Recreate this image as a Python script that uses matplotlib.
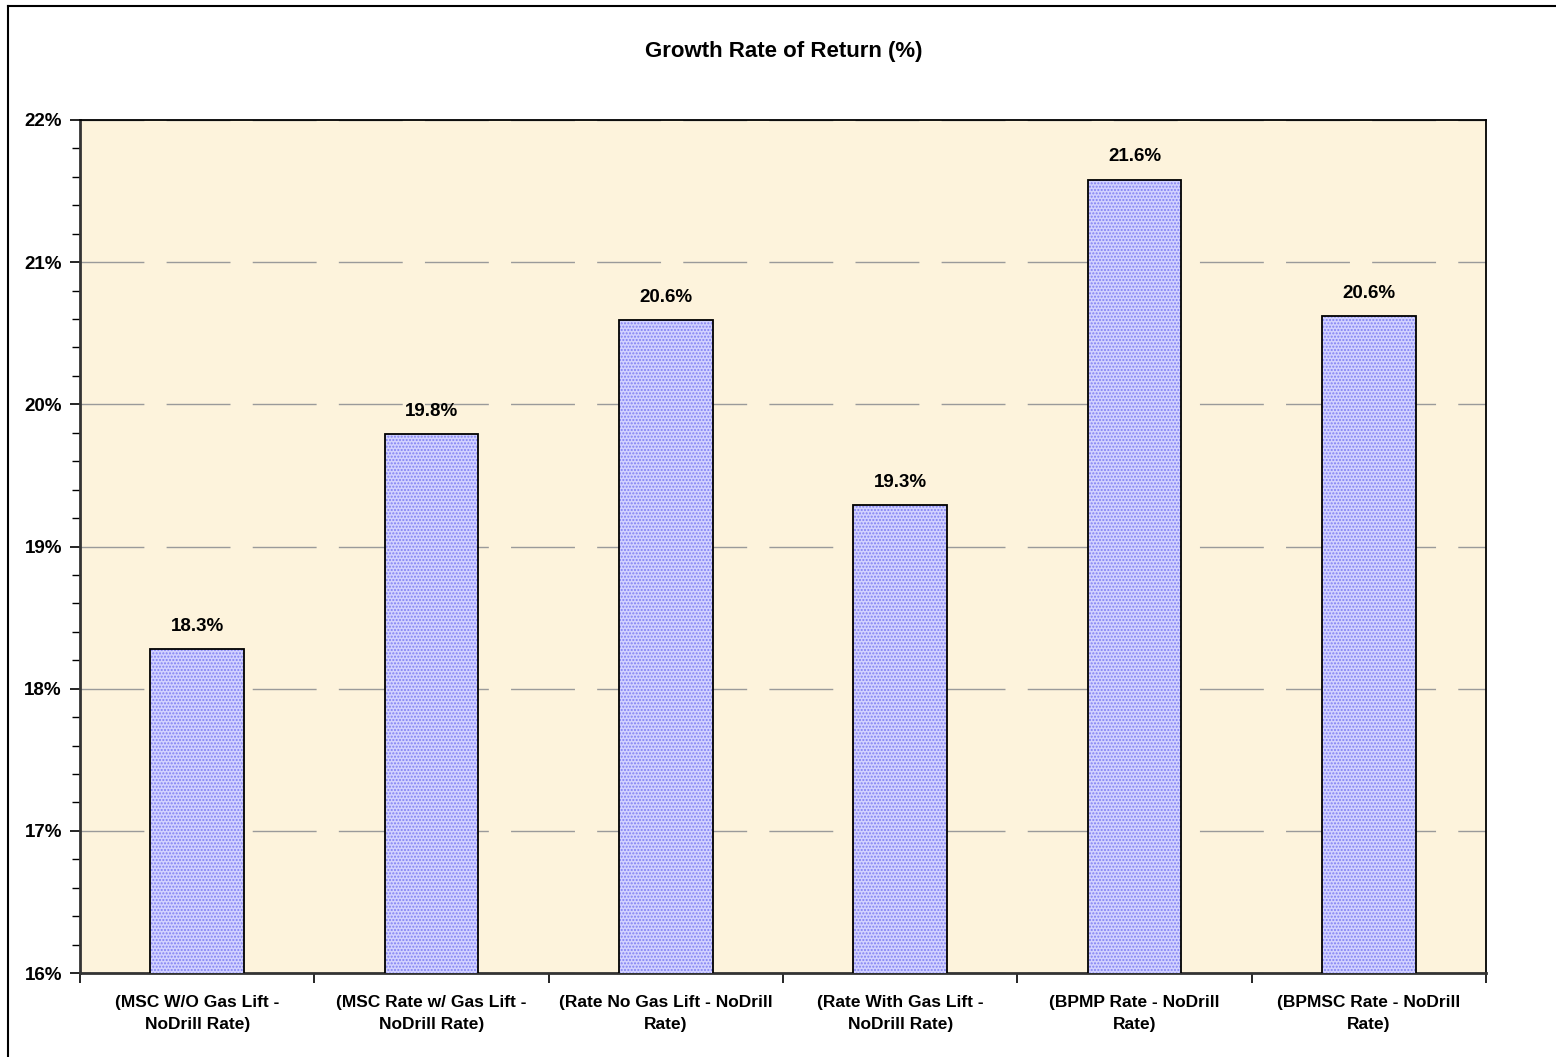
import matplotlib
matplotlib.use("Agg")
import matplotlib.pyplot as plt
from matplotlib.ticker import MultipleLocator, FuncFormatter
from matplotlib.lines import Line2D

plt.rcParams['font.family'] = ['Liberation Sans', 'DejaVu Sans']

categories = [
    "(MSC W/O Gas Lift -\nNoDrill Rate)",
    "(MSC Rate w/ Gas Lift -\nNoDrill Rate)",
    "(Rate No Gas Lift - NoDrill\nRate)",
    "(Rate With Gas Lift -\nNoDrill Rate)",
    "(BPMP Rate - NoDrill\nRate)",
    "(BPMSC Rate - NoDrill\nRate)",
]
values = [18.28, 19.79, 20.59, 19.29, 21.58, 20.62]
y_ticks = [16, 17, 18, 19, 20, 21, 22]

fig = plt.figure(figsize=(15.56, 10.57), dpi=100)
fig.patch.set_facecolor('white')

# chart-area frame (left and top edges)
fig.add_artist(Line2D([8 / 1556, 1.0], [1 - 6 / 1057, 1 - 6 / 1057],
                      transform=fig.transFigure, color='black', lw=1.5))
fig.add_artist(Line2D([8 / 1556, 8 / 1556], [0.0, 1 - 6 / 1057],
                      transform=fig.transFigure, color='black', lw=1.5))

ax = fig.add_axes([80 / 1556, 1 - 973 / 1057, (1486 - 80) / 1556, (973 - 120) / 1057])
ax.set_facecolor('#FDF3DC')

x = list(range(len(categories)))
# dotted fill
ax.bar(x, values, width=0.4, bottom=0, color='#D2D2FF', edgecolor='#8080F2',
       hatch='.....', linewidth=0, zorder=3)
# outlines
ax.bar(x, values, width=0.4, fill=False, edgecolor='black', linewidth=1.3, zorder=4)

for xi, v in zip(x, values):
    ax.text(xi, v + 0.1, f"{v:.1f}%", ha='center', va='bottom',
            fontsize=13.5, fontweight='bold', zorder=5)

ax.set_ylim(16, 22)
ax.set_xlim(-0.5, len(categories) - 0.5)
ax.set_yticks(y_ticks)
ax.yaxis.set_minor_locator(MultipleLocator(0.2))
ax.yaxis.set_major_formatter(FuncFormatter(lambda v, p: f"{v:.0f}%"))

ax.set_xticks([i + 0.5 for i in range(-1, len(categories))], minor=False)
ax.set_xticklabels([])
ax.set_xticks(x, minor=True)
ax.set_xticklabels(categories, minor=True, fontsize=12.5, fontweight='bold',
                   linespacing=1.6)
ax.tick_params(axis='x', which='minor', length=0, pad=16)
ax.tick_params(axis='x', which='major', length=7, width=1.2, direction='out')
ax.tick_params(axis='y', which='major', length=7, width=1.2, direction='out',
               labelsize=13.5, pad=6)
for lbl in ax.get_yticklabels():
    lbl.set_fontweight('bold')
ax.tick_params(axis='y', which='minor', length=6, width=1.0, direction='out')

ax.grid(axis='y', which='major', color='#9A9A9A', linewidth=1.0,
        linestyle=(0, (46, 16)), zorder=1)
ax.set_axisbelow(True)

for side in ['left', 'bottom']:
    ax.spines[side].set_linewidth(2.0)
    ax.spines[side].set_color('#333333')
for side in ['top', 'right']:
    ax.spines[side].set_linewidth(1.3)
    ax.spines[side].set_color('black')

fig.text(784 / 1556, 1 - 51 / 1057, "Growth Rate of Return (%)", ha='center',
         va='center', fontsize=16, fontweight='bold')

fig.savefig("out.png", dpi=100)
